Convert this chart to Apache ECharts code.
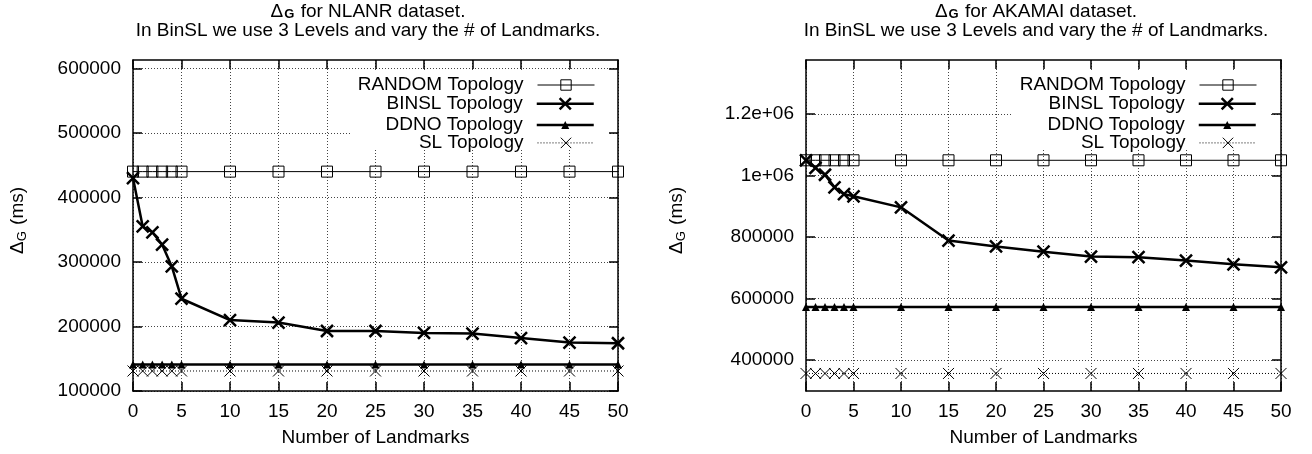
<!DOCTYPE html>
<html>
<head>
<meta charset="utf-8">
<script src="https://cdn.jsdelivr.net/npm/echarts@6/dist/echarts.min.js"></script>
<style>
html,body{margin:0;padding:0;background:#fff;}
#c{width:1312px;height:454px;}
</style>
</head>
<body>
<div id="c"></div>
<script>
// ---- data ----
var landmarks = [0, 1, 2, 3, 4, 5, 10, 15, 20, 25, 30, 35, 40, 45, 50];
var seriesNames = ['RANDOM Topology', 'BINSL Topology', 'DDNO Topology', 'SL Topology'];

var nlanrRandom = [440000, 440000, 440000, 440000, 440000, 440000, 440000, 440000, 440000, 440000, 440000, 440000, 440000, 440000, 440000];
var nlanrBinsl  = [430000, 355000, 346000, 327000, 293000, 243000, 210000, 206000, 193000, 193000, 190000, 189000, 182000, 175000, 174000];
var nlanrDdno   = [141000, 141000, 141000, 141000, 141000, 141000, 141000, 141000, 141000, 141000, 141000, 141000, 141000, 141000, 141000];
var nlanrSl     = [131000, 131000, 131000, 131000, 131000, 131000, 131000, 131000, 131000, 131000, 131000, 131000, 131000, 131000, 131000];

var akamaiRandom = [1050000, 1050000, 1050000, 1050000, 1050000, 1050000, 1050000, 1050000, 1050000, 1050000, 1050000, 1050000, 1050000, 1050000, 1050000];
var akamaiBinsl  = [1050000, 1025000, 1003000, 962000, 940000, 933000, 897000, 789000, 770000, 753000, 737000, 735000, 724000, 712000, 702000];
var akamaiDdno   = [573000, 573000, 573000, 573000, 573000, 573000, 573000, 573000, 573000, 573000, 573000, 573000, 573000, 573000, 573000];
var akamaiSl     = [357000, 357000, 357000, 357000, 357000, 357000, 357000, 357000, 357000, 357000, 357000, 357000, 357000, 357000, 357000];

var xTicks = [0, 5, 10, 15, 20, 25, 30, 35, 40, 45, 50];
var yTicksLeft = [100000, 200000, 300000, 400000, 500000, 600000];
var yTickLabelsLeft = ['100000', '200000', '300000', '400000', '500000', '600000'];
var yTicksRight = [400000, 600000, 800000, 1000000, 1200000];
var yTickLabelsRight = ['400000', '600000', '800000', '1e+06', '1.2e+06'];

var titleLeft = ['for NLANR dataset.', 'In BinSL we use 3 Levels and vary the # of Landmarks.'];
var titleRight = ['for AKAMAI dataset.', 'In BinSL we use 3 Levels and vary the # of Landmarks.'];
var xName = 'Number of Landmarks';

// ---- styling ----
var FONT = 'Liberation Sans, Arial, Helvetica, sans-serif';
var FS = 19;
var SUB = 13;
var GRIDLINE = {color: '#444', width: 1, type: [1, 2]};
var gridDefs = [
  {left: 133, right: 694, top: 60, bottom: 63},
  {left: 806, right: 31, top: 60, bottom: 63}
];
var yRanges = [[100000, 613000], [300000, 1376000]];
var yTicks = [yTicksLeft, yTicksRight];
var yLabels = [yTickLabelsLeft, yTickLabelsRight];
var dataSets = [
  [nlanrRandom, nlanrBinsl, nlanrDdno, nlanrSl],
  [akamaiRandom, akamaiBinsl, akamaiDdno, akamaiSl]
];

var SQUARE = 'path://M0,0L10,0L10,10L0,10Z';
var CROSS = 'path://M0,0L10,10M10,0L0,10';
var seriesStyles = [
  {symbol: SQUARE, symbolSize: 11, line: {color: '#000', width: 1, type: 'solid'}, item: {color: 'rgba(0,0,0,0)', borderColor: '#000', borderWidth: 1}, legendH: 13},
  {symbol: CROSS, symbolSize: 12, line: {color: '#000', width: 2.5, type: 'solid'}, item: {color: '#000', borderColor: '#000', borderWidth: 2.5}, legendH: 14},
  {symbol: 'triangle', symbolSize: 8, line: {color: '#000', width: 2.5, type: 'solid'}, item: {color: '#000', borderColor: '#000', borderWidth: 0}, legendH: 10},
  {symbol: CROSS, symbolSize: 11, line: {color: '#000', width: 1, type: [1, 2]}, item: {color: '#000', borderColor: '#000', borderWidth: 1}, legendH: 13}
];

function pairs(vals) {
  return landmarks.map(function (x, i) { return [x, vals[i]]; });
}

var xAxes = [], yAxes = [], series = [], legends = [], titles = [], graphics = [];
var legendRight = [717, 55];
var boxLeft = [350, 1013];
var titleCenter = [368, 1036];
var titleTexts = [titleLeft, titleRight];
var yNameGap = [104, 118];

for (var g = 0; g < 2; g++) {
  var labelMap = {};
  yTicks[g].forEach(function (v, i) { labelMap[v] = yLabels[g][i]; });
  (function (labelMap) {
    xAxes.push({
      type: 'value', gridIndex: g, position: 'bottom', min: 0, max: 50, interval: 5,
      axisLine: {show: true, onZero: false, lineStyle: {color: '#000', width: 1.5}},
      axisTick: {show: true, inside: true, length: 9, lineStyle: {color: '#000', width: 1.5}},
      axisLabel: {show: true, color: '#000', fontFamily: FONT, fontSize: FS, margin: 11},
      splitLine: {show: true, lineStyle: GRIDLINE},
      name: xName, nameLocation: 'middle', nameGap: 37,
      nameTextStyle: {color: '#000', fontFamily: FONT, fontSize: FS}
    });
    xAxes.push({
      type: 'value', gridIndex: g, position: 'top', min: 0, max: 50, interval: 5,
      axisLine: {show: true, onZero: false, lineStyle: {color: '#000', width: 1.5}},
      axisTick: {show: true, inside: true, length: 9, lineStyle: {color: '#000', width: 1.5}},
      axisLabel: {show: false}, splitLine: {show: false}
    });
    yAxes.push({
      type: 'value', gridIndex: g, position: 'left', min: yRanges[g][0], max: yRanges[g][1],
      axisLine: {show: true, onZero: false, lineStyle: {color: '#000', width: 1.5}},
      axisTick: {show: true, inside: true, length: 9, customValues: yTicks[g], lineStyle: {color: '#000', width: 1.5}},
      axisLabel: {show: true, customValues: yTicks[g], color: '#000', fontFamily: FONT, fontSize: FS, margin: 12,
        formatter: function (v) { return labelMap[v] !== undefined ? labelMap[v] : ''; }},
      splitLine: {show: true, lineStyle: GRIDLINE},
      name: '{d|Δ}{s|G}{d| (ms)}', nameLocation: 'middle', nameGap: yNameGap[g],
      nameTextStyle: {color: '#000', fontFamily: FONT, fontSize: FS, padding: [0, 0, 0, 10],
        rich: {
          d: {fontFamily: FONT, fontSize: FS, color: '#000', lineHeight: 22, verticalAlign: 'middle'},
          s: {fontFamily: FONT, fontSize: SUB, color: '#000', lineHeight: 22, verticalAlign: 'bottom', padding: [0, 1, 0, 0]}
        }}
    });
    yAxes.push({
      type: 'value', gridIndex: g, position: 'right', min: yRanges[g][0], max: yRanges[g][1],
      axisLine: {show: true, onZero: false, lineStyle: {color: '#000', width: 1.5}},
      axisTick: {show: true, inside: true, length: 9, customValues: yTicks[g], lineStyle: {color: '#000', width: 1.5}},
      axisLabel: {show: false}, splitLine: {show: false}
    });
  })(labelMap);

  for (var s = 0; s < 4; s++) {
    var st = seriesStyles[s];
    var nm = seriesNames[s] + (g === 0 ? '' : '\u200b');
    series.push({
      type: 'line', name: nm,
      xAxisIndex: g * 2, yAxisIndex: g * 2,
      data: pairs(dataSets[g][s]),
      symbol: st.symbol, symbolSize: st.symbolSize, showAllSymbol: true,
      lineStyle: st.line, itemStyle: st.item,
      z: 3 + (3 - s), animation: false, silent: true, clip: false
    });
    legends.push({
      show: true, orient: 'vertical', right: legendRight[g], top: 82 + s * 19.3 - st.legendH / 2,
      padding: 0, align: 'right', itemWidth: 57, itemHeight: st.legendH, selectedMode: false,
      data: [nm],
      lineStyle: {width: st.line.width, type: st.line.type, color: '#000'},
      itemStyle: {color: st.item.color, borderColor: st.item.borderColor, borderWidth: st.item.borderWidth},
      textStyle: {color: '#000', fontFamily: FONT, fontSize: FS, padding: [0, 9, 0, 0]}
    });
  }

  titles.push({
    text: '{d|Δ}{s|G}{d| ' + titleTexts[g][0] + '}\n{d|' + titleTexts[g][1] + '}',
    left: titleCenter[g], top: 2, textAlign: 'center', padding: 0,
    textStyle: {color: '#000', fontFamily: FONT, fontSize: FS, fontWeight: 'normal',
      rich: {
        d: {fontFamily: FONT, fontSize: FS, color: '#000', lineHeight: 19, verticalAlign: 'middle'},
        s: {fontFamily: FONT, fontSize: SUB, fontWeight: 'bold', color: '#000', lineHeight: 19, verticalAlign: 'bottom', padding: [0, 1, 0, 1]}
      }}
  });

  graphics.push({
    type: 'rect', z: 1, silent: true,
    shape: {x: boxLeft[g], y: 71, width: 258, height: 77},
    style: {fill: '#fff'}
  });
}

var chart = echarts.init(document.getElementById('c'), null, {renderer: 'canvas'});
chart.setOption({
  animation: false,
  backgroundColor: '#fff',
  title: titles,
  grid: gridDefs.map(function (d) { return Object.assign({show: false, containLabel: false}, d); }),
  xAxis: xAxes,
  yAxis: yAxes,
  legend: legends,
  graphic: graphics,
  series: series
});
</script>
</body>
</html>
